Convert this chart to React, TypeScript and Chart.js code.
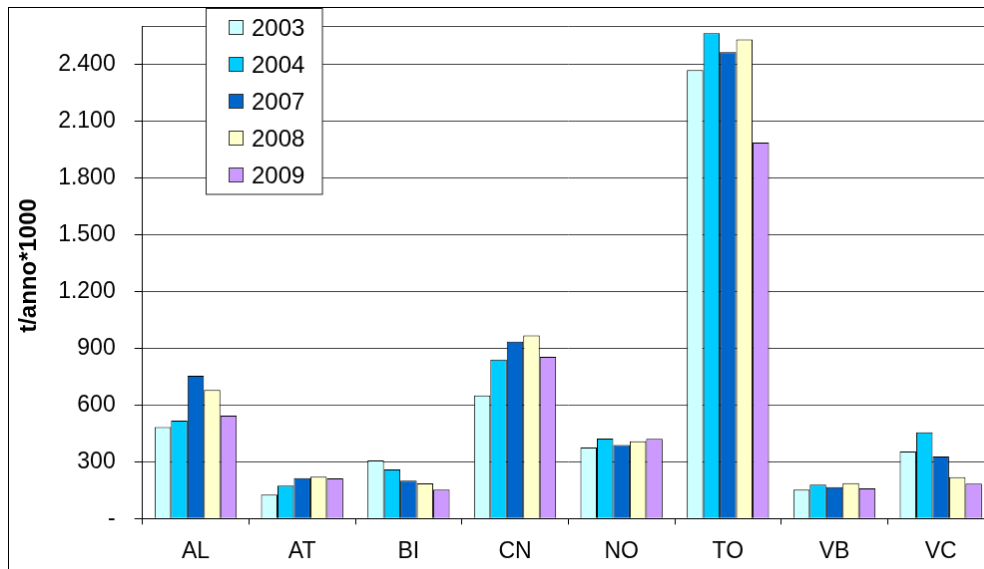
import { useEffect, useRef } from 'react';
import { Chart, registerables } from 'chart.js';

Chart.register(...registerables);

const categories = ['AL', 'AT', 'BI', 'CN', 'NO', 'TO', 'VB', 'VC'];
const years = ['2003', '2004', '2007', '2008', '2009'];
const s2003 = [484, 126, 307, 651, 375, 2370, 153, 354];
const s2004 = [517, 174, 260, 840, 423, 2565, 179, 456];
const s2007 = [754, 214, 200, 935, 389, 2465, 166, 328];
const s2008 = [679, 221, 186, 968, 408, 2532, 187, 219];
const s2009 = [544, 212, 153, 854, 421, 1986, 160, 184];
const yTicks = [0, 300, 600, 900, 1200, 1500, 1800, 2100, 2400];
const yMax = 2600;
const yTitle = 't/anno*1000';

const colors = ['#CCFFFF', '#00CCFF', '#0066CC', '#FFFFCC', '#CC99FF'];
const FONT = '"Liberation Sans", Arial, sans-serif';

const fmt = (v: number) => {
  if (v === 0) return '-';
  if (v === yMax) return '';
  return String(v).replace(/\B(?=(\d{3})+(?!\d))/g, '.');
};

const floatLegend = {
  id: 'floatLegend',
  afterDraw(chart: any) {
    const ctx = chart.ctx;
    ctx.save();
    // axis title
    ctx.translate(20, 258.5);
    ctx.rotate(-Math.PI / 2);
    ctx.fillStyle = '#000';
    ctx.font = `bold 24px ${FONT}`;
    ctx.textAlign = 'center';
    ctx.textBaseline = 'middle';
    ctx.fillText(yTitle, 0, 0);
    ctx.restore();

    ctx.save();
    ctx.fillStyle = '#fff';
    ctx.fillRect(197.5, 0.5, 116.5, 186.5);
    ctx.strokeStyle = '#222';
    ctx.lineWidth = 1;
    ctx.strokeRect(197.5, 0.5, 116.5, 186.5);
    chart.data.datasets.forEach((ds: any, i: number) => {
      const cy = Math.round(20.3 + i * 36.85);
      ctx.fillStyle = ds.backgroundColor;
      ctx.fillRect(220.5, cy - 7.5, 14, 14);
      ctx.strokeStyle = '#333';
      ctx.strokeRect(220.5, cy - 7.5, 14, 14);
      ctx.fillStyle = '#000';
      ctx.font = `24px ${FONT}`;
      ctx.textBaseline = 'middle';
      ctx.textAlign = 'left';
      ctx.fillText(ds.label, 243, cy + 1);
    });
    ctx.restore();
  },
};

export default function App() {
  const ref = useRef<HTMLCanvasElement | null>(null);

  useEffect(() => {
    if (!ref.current) return;
    document.body.style.overflow = 'hidden';
    const series = [s2003, s2004, s2007, s2008, s2009];
    const chart = new Chart(ref.current, {
      type: 'bar',
      data: {
        labels: categories,
        datasets: years.map((y, i) => ({
          label: y,
          data: series[i],
          backgroundColor: colors[i],
          borderColor: '#000',
          borderWidth: 1,
          categoryPercentage: 0.772,
          barPercentage: 1,
        })),
      },
      options: {
        responsive: false,
        animation: false,
        layout: { padding: { left: 0, top: 18.5, right: 23, bottom: 0 } },
        plugins: {
          legend: { display: false },
          tooltip: { enabled: false },
        },
        scales: {
          x: {
            grid: {
              display: true,
              drawOnChartArea: false,
              drawTicks: true,
              tickLength: 6,
              color: '#000',
              offset: true,
            },
            border: { display: true, color: '#000', width: 1 },
            ticks: {
              color: '#000',
              font: { family: FONT, size: 23 },
              padding: 14,
              maxRotation: 0,
            },
            afterFit: (s: any) => {
              s.height = 67.7;
              s.paddingLeft = 0;
              s.paddingRight = 0;
            },
          },
          y: {
            min: 0,
            max: yMax,
            afterBuildTicks: (s: any) => {
              s.ticks = [...yTicks, yMax].map((v) => ({ value: v }));
            },
            grid: {
              color: '#444',
              lineWidth: 1,
              drawTicks: true,
              tickLength: 8,
              tickColor: (c: any) => (c.tick && c.tick.value === yMax ? 'rgba(0,0,0,0)' : '#000'),
            },
            border: { display: true, color: '#000', width: 1 },
            ticks: {
              color: '#000',
              font: { family: FONT, size: 23 },
              padding: 19,
              callback: (v: any) => fmt(Number(v)),
            },
            title: { display: false },
            afterFit: (s: any) => {
              s.width = 133.7;
              s.paddingTop = 0;
              s.paddingBottom = 0;
            },
          },
        },
      },
      plugins: [floatLegend],
    });
    return () => chart.destroy();
  }, []);

  return (
    <div
      style={{
        position: 'fixed',
        left: 8,
        top: 7,
        width: 976,
        height: 562,
        overflow: 'hidden',
      }}
    >
      <canvas
        ref={ref}
        width={1010}
        height={580}
        style={{ display: 'block', border: '1px solid #000', background: '#fff' }}
      />
    </div>
  );
}
